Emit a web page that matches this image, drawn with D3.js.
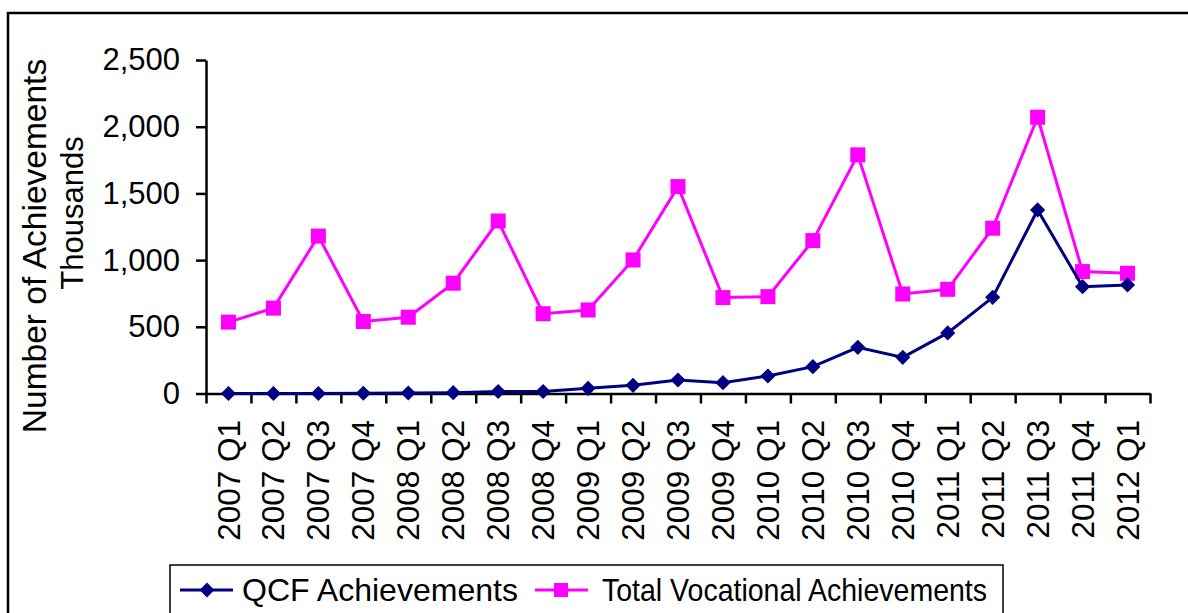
<!DOCTYPE html>
<html>
<head>
<meta charset="utf-8">
<script src="https://cdn.jsdelivr.net/npm/d3@7"></script>
<style>
  html, body { margin: 0; padding: 0; background: #fff; }
  svg { display: block; }
  text { font-family: "Liberation Sans", Arial, sans-serif; fill: #000; }
</style>
</head>
<body>
<svg id="chart" width="1188" height="613"></svg>
<script>
const categories = ["2007 Q1","2007 Q2","2007 Q3","2007 Q4","2008 Q1","2008 Q2","2008 Q3","2008 Q4",
  "2009 Q1","2009 Q2","2009 Q3","2009 Q4","2010 Q1","2010 Q2","2010 Q3","2010 Q4",
  "2011 Q1","2011 Q2","2011 Q3","2011 Q4","2012 Q1"];
const qcfValues = [0, 0, 0, 2, 4, 6, 15, 15, 39, 61, 101, 81, 131, 201, 346, 271, 454, 721, 1376, 801, 814];
const totalValues = [535, 640, 1180, 540, 572, 827, 1293, 598, 626, 1001, 1551, 719, 726, 1146, 1789, 746, 781, 1239, 2071, 914, 901];
const yTicks = [0, 500, 1000, 1500, 2000, 2500];
const seriesNames = ["QCF Achievements", "Total Vocational Achievements"];
const yTitle = "Number of Achievements";
const unitLabel = "Thousands";

const svg = d3.select("#chart");
const mLeft = 206, mRight = 1150, mTop = 60, mBottom = 393.5;

// outer frame
svg.append("rect").attr("x", 8).attr("y", 13).attr("width", 1250).attr("height", 700)
  .attr("fill", "none").attr("stroke", "#000").attr("stroke-width", 2.5);

const x = d3.scaleBand().domain(categories).range([mLeft, mRight]).padding(0);
const xc = d => x(d) + x.bandwidth() / 2;
const y = d3.scaleLinear().domain([0, 2500]).range([mBottom, mTop]);

// y axis
const yAxis = svg.append("g").attr("transform", `translate(${mLeft},0)`)
  .call(d3.axisLeft(y).tickValues(yTicks).tickFormat(d3.format(",")).tickSize(10).tickSizeOuter(0));
yAxis.select(".domain").attr("stroke", "#000").attr("stroke-width", 2.5);
yAxis.selectAll(".tick line").attr("stroke", "#000").attr("stroke-width", 2.5);
yAxis.selectAll(".tick text").attr("x", -26).attr("font-size", 31).attr("font-family", "Liberation Sans, Arial, sans-serif").attr("fill", "#000");

// x axis: ticks at category boundaries
const xb = d3.scaleLinear().domain([0, categories.length]).range([mLeft, mRight]);
const xAxis = svg.append("g").attr("transform", `translate(0,${mBottom})`)
  .call(d3.axisBottom(xb).tickValues(d3.range(categories.length + 1)).tickFormat("").tickSize(10).tickSizeOuter(0));
xAxis.select(".domain").attr("stroke", "#000").attr("stroke-width", 2.5);
xAxis.selectAll(".tick line").attr("stroke", "#000").attr("stroke-width", 2.5);

// x labels
svg.append("g").selectAll("text").data(categories).join("text")
  .attr("transform", d => `translate(${xc(d)},420) rotate(-90)`)
  .attr("text-anchor", "end").attr("dy", "0.35em")
  .attr("font-size", 31.5).text(d => d);

// y titles
svg.append("text").attr("transform", "translate(34,246) rotate(-90)")
  .attr("text-anchor", "middle").attr("dy", "0.35em").attr("font-size", 33.5).text(yTitle);
svg.append("text").attr("transform", "translate(72,213) rotate(-90)")
  .attr("text-anchor", "middle").attr("dy", "0.35em").attr("font-size", 31).text(unitLabel);

const line = d3.line().x((d, i) => xc(categories[i])).y(d => y(d));

// total series
svg.append("path").datum(totalValues).attr("d", line)
  .attr("fill", "none").attr("stroke", "#FF00FF").attr("stroke-width", 3);
svg.append("g").selectAll("rect").data(totalValues).join("rect")
  .attr("x", (d, i) => xc(categories[i]) - 7.5).attr("y", d => y(d) - 7.5)
  .attr("width", 15).attr("height", 15).attr("fill", "#FF00FF");

// qcf series
svg.append("path").datum(qcfValues).attr("d", line)
  .attr("fill", "none").attr("stroke", "#000080").attr("stroke-width", 3);
svg.append("g").selectAll("path").data(qcfValues).join("path")
  .attr("transform", (d, i) => `translate(${xc(categories[i])},${y(d)}) rotate(45)`)
  .attr("d", d3.symbol().type(d3.symbolSquare).size(115)).attr("fill", "#000080");

// legend
const lg = svg.append("g");
lg.append("rect").attr("x", 170).attr("y", 565).attr("width", 833).attr("height", 80)
  .attr("fill", "#fff").attr("stroke", "#000").attr("stroke-width", 1.5);
lg.append("line").attr("x1", 180).attr("x2", 233).attr("y1", 590).attr("y2", 590)
  .attr("stroke", "#000080").attr("stroke-width", 3);
lg.append("path").attr("transform", "translate(207,590) rotate(45)")
  .attr("d", d3.symbol().type(d3.symbolSquare).size(110)).attr("fill", "#000080");
lg.append("text").attr("x", 242).attr("y", 601).attr("font-size", 31.5)
  .attr("textLength", 276).attr("lengthAdjust", "spacingAndGlyphs").text(seriesNames[0]);
lg.append("line").attr("x1", 535).attr("x2", 588).attr("y1", 590).attr("y2", 590)
  .attr("stroke", "#FF00FF").attr("stroke-width", 3);
lg.append("rect").attr("x", 554).attr("y", 583).attr("width", 14).attr("height", 14).attr("fill", "#FF00FF");
lg.append("text").attr("x", 602).attr("y", 601).attr("font-size", 31.5)
  .attr("textLength", 385).attr("lengthAdjust", "spacingAndGlyphs").text(seriesNames[1]);
</script>
</body>
</html>
